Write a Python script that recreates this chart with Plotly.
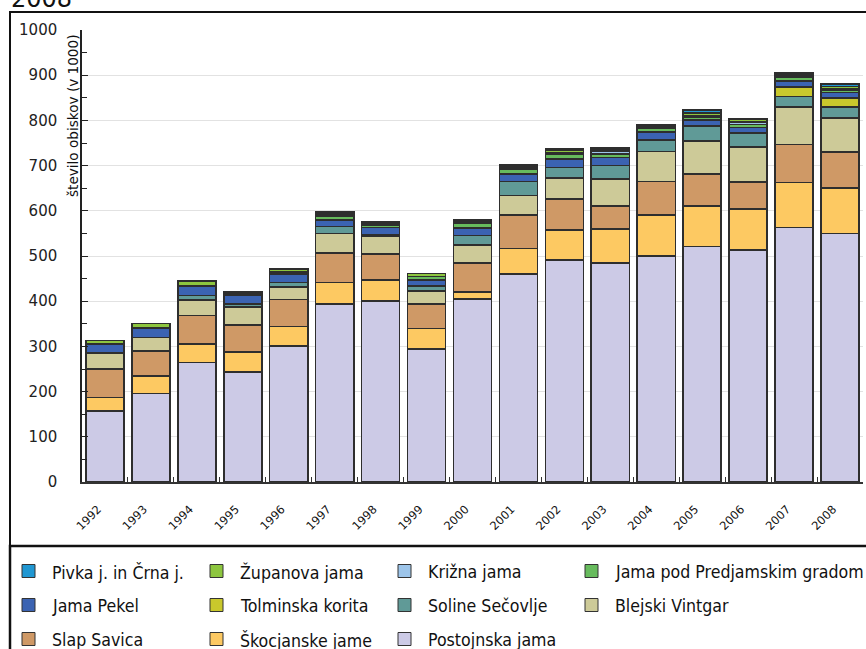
import plotly.graph_objects as go

years = [str(y) for y in range(1992, 2009)]

# series values (thousand visitors), bottom of stack first
postojnska = [157, 196, 264, 244, 301, 394, 400, 294, 405, 460, 491, 484, 500, 521, 513, 563, 550]
skocjanske = [30, 38, 41, 44, 43, 47, 47, 46, 16, 57, 66, 76, 91, 90, 91, 100, 100]
slap_savica = [63, 56, 63, 59, 60, 66, 57, 54, 63, 74, 69, 51, 74, 70, 60, 84, 80]
blejski = [35, 30, 35, 40, 27, 43, 40, 29, 40, 43, 46, 59, 66, 74, 77, 83, 75]
soline = [None, None, 10, 7, 10, 15, 4, 11, 21, 31, 24, 30, 26, 33, 31, 23, 24]
tolminska = [None, None, None, None, None, None, None, None, None, None, None, None, None, None, None, 21, 20]
pekel = [20, 21, 20, 19, 19, 14, 15, 13, 17, 17, 18, 18, 18, 13, 12, 13, 13]
predjama = [None, None, None, None, None, 8, 5, 8, 11, 11, 12, 8, 8, 7, 7, 9, 5]
krizna = [None, None, None, 3, 5, 2, None, None, 3, 3, 3, 6, None, 3, 6, 3, 4]
zupanova = [8, 10, 12, None, 6, 4, 3, 6, 2, 3, 4, 3, 3, 6, 6, 4, 4]
pivka = [None, None, None, 4, None, 4, 4, None, 3, 3, 4, 4, 4, 6, None, 3, 5]

series = [
    ("Postojnska jama", postojnska, "#cccae6"),
    ("Škocjanske jame", skocjanske, "#fdc962"),
    ("Slap Savica", slap_savica, "#cf9966"),
    ("Blejski Vintgar", blejski, "#cdca98"),
    ("Soline Sečovlje", soline, "#609a97"),
    ("Tolminska korita", tolminska, "#c9c82c"),
    ("Jama Pekel", pekel, "#3b63b2"),
    ("Jama pod Predjamskim gradom", predjama, "#67bb5d"),
    ("Križna jama", krizna, "#9dc5ea"),
    ("Županova jama", zupanova, "#8dc63f"),
    ("Pivka j. in Črna j.", pivka, "#2097d2"),
]

OFF = 0  # page body margin (removed by post_script)
W, H = 866, 649
L, R, T, B = 82, 863, 30, 482  # plot area in screenshot pixels


def px(x):
    return (x - L) / (R - L)


def py(y):
    return (B - y) / (B - T)


FONT = "DejaVu Sans"
LEGFONT = "DejaVu Sans Condensed, DejaVu Sans"

fig = go.Figure()
for name, vals, col in series:
    fig.add_trace(go.Bar(
        x=years, y=vals, name=name,
        marker=dict(color=col, line=dict(color="#2e2e2e", width=1.6)),
        showlegend=False,
    ))

shapes = []
annotations = []

# frame around chart and legend box
shapes.append(dict(type="rect", xref="paper", yref="paper",
                   x0=px(10), x1=px(890), y0=py(546), y1=py(12),
                   line=dict(color="#111111", width=2)))
shapes.append(dict(type="rect", xref="paper", yref="paper",
                   x0=px(10), x1=px(890), y0=py(680), y1=py(546),
                   line=dict(color="#111111", width=2.5)))

# manual legend (4 columns, reversed order)
col_x = [22, 210, 398, 585]
row_y = [571, 605, 639]
for i, (name, vals, col) in enumerate(reversed(series)):
    r, c = divmod(i, 4)
    x0 = col_x[c]
    yc = row_y[r]
    shapes.append(dict(type="rect", xref="paper", yref="paper",
                       x0=px(x0), x1=px(x0 + 13), y0=py(yc + 6.5), y1=py(yc - 6.5),
                       fillcolor=col, line=dict(color="#333333", width=1)))
    annotations.append(dict(xref="paper", yref="paper", x=px(x0 + 28), y=py(yc + 1),
                            xanchor="left", yanchor="middle", showarrow=False,
                            text=name, font=dict(family=LEGFONT, size=17.6, color="#111111")))

# y axis title
annotations.append(dict(xref="paper", yref="paper", x=px(73), y=py(33),
                        xanchor="center", yanchor="top", showarrow=False, textangle=-90,
                        text="število obiskov (v 1000)",
                        font=dict(family=FONT, size=13.6, color="#111111")))

# partially visible title
annotations.append(dict(xref="paper", yref="paper", x=px(9), y=py(15),
                        xanchor="left", yanchor="bottom", showarrow=False,
                        text="2008", font=dict(family=FONT, size=24, color="#111111")))

fig.update_layout(
    width=W, height=H,
    margin=dict(l=L - OFF, r=W - (R - OFF), t=T - OFF, b=H - (B - OFF), pad=0),
    paper_bgcolor="white", plot_bgcolor="white",
    barmode="stack", bargap=0.17,
    showlegend=False,
    shapes=shapes, annotations=annotations,
    font=dict(family=FONT, color="#111111"),
)
fig.update_xaxes(
    type="category", range=[-0.5, 16.5],
    showline=True, linecolor="#333333", linewidth=2,
    ticks="inside", tickson="boundaries", ticklen=5, tickcolor="#333333",
    tickangle=-45, tickfont=dict(family=FONT, size=11.5, color="#111111"),
    ticklabelstandoff=14, ticklabelshift=-7,
    showgrid=False, fixedrange=True,
)
fig.update_yaxes(
    range=[0, 1000], dtick=100,
    showline=True, linecolor="#222222", linewidth=1.5,
    ticks="inside", ticklen=6, tickcolor="#222222",
    minor=dict(ticks="inside", ticklen=5, dtick=50, tickcolor="#222222", showgrid=False),
    showgrid=True, gridcolor="#e2e2e2", gridwidth=1,
    tickfont=dict(family=FONT, size=15, color="#222222"),
    ticklabelstandoff=20,
    zeroline=False, fixedrange=True,
)

fig.write_html("out.html", config={"displayModeBar": False},
               post_script="document.body.style.margin='0px';document.body.style.overflow='hidden';")
